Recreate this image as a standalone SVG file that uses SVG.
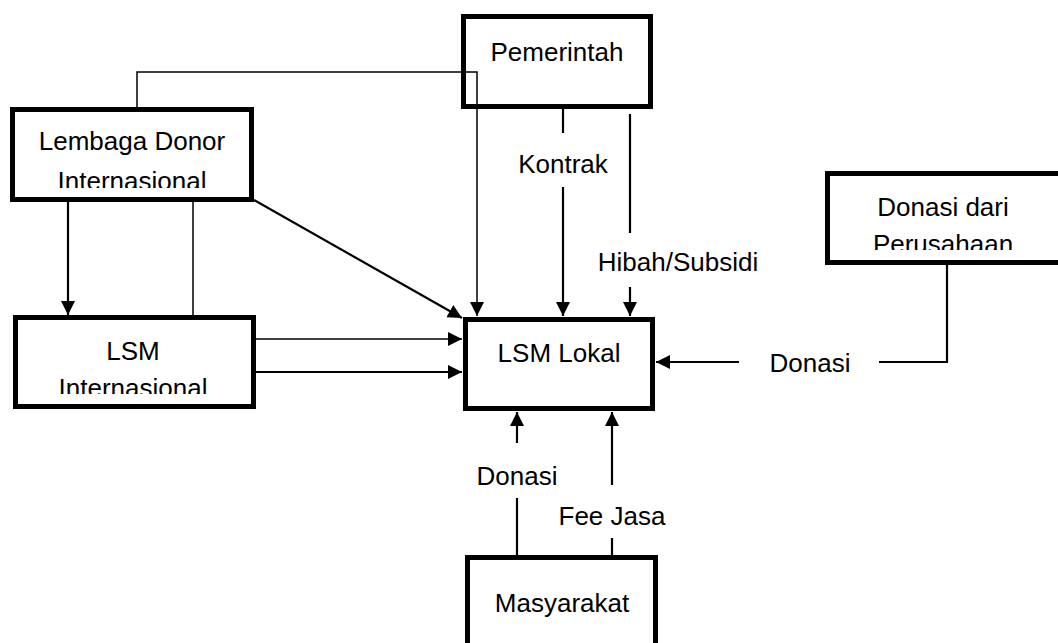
<svg xmlns="http://www.w3.org/2000/svg" width="1058" height="643" viewBox="0 0 1058 643">
<style>
.box{fill:#fff;stroke:#000;stroke-width:5}
.t{font-family:"Liberation Sans",Arial,sans-serif;font-size:26px;fill:#000;text-anchor:middle}
.c{fill:none;stroke:#000;stroke-width:2.2}
.thin{fill:none;stroke:#000;stroke-width:1.5}
</style>
<defs>
<marker id="ah" markerUnits="userSpaceOnUse" markerWidth="15" markerHeight="15" refX="14" refY="7" orient="auto" viewBox="0 0 15 14">
<path d="M0,0 L14,7 L0,14 z" fill="#000"/>
</marker>
<clipPath id="clipLD"><rect x="15" y="112" width="234" height="76"/></clipPath>
<clipPath id="clipLI"><rect x="18" y="320" width="233" height="74"/></clipPath>
<clipPath id="clipDP"><rect x="830" y="176" width="228" height="74"/></clipPath>
</defs>
<rect width="1058" height="643" fill="#fff"/>
<g id="connectors">
<path class="c" d="M68,202 V315" marker-end="url(#ah)"/>
<path class="thin" d="M193,202 V339 H462" marker-end="url(#ah)"/>
<path class="c" d="M256,372 H462" marker-end="url(#ah)"/>
<path class="c" d="M254,200 L462,318" marker-end="url(#ah)"/>
<path class="thin" d="M137,107 V72 H477 V316" marker-end="url(#ah)"/>
<path class="c" d="M563,109 V133"/>
<path class="c" d="M563,187 V316" marker-end="url(#ah)"/>
<path class="c" d="M630,114 V233"/>
<path class="c" d="M630,287 V316" marker-end="url(#ah)"/>
<path class="c" d="M947,265 V362 H879"/>
<path class="c" d="M739,362 H656" marker-end="url(#ah)"/>
<path class="c" d="M517,555 V498"/>
<path class="c" d="M517,443 V412" marker-end="url(#ah)"/>
<path class="c" d="M612,555 V538"/>
<path class="c" d="M612,485 V412" marker-end="url(#ah)"/>
<text class="t" x="563" y="173">Kontrak</text>
<text class="t" x="678" y="271">Hibah/Subsidi</text>
<text class="t" x="810" y="372">Donasi</text>
<text class="t" x="517" y="485">Donasi</text>
<text class="t" x="612" y="525">Fee Jasa</text>
</g>
<g id="pemerintah">
<rect class="box" x="463.5" y="16.5" width="187" height="90" style="fill:none"/>
<text class="t" x="557" y="61">Pemerintah</text>
</g>
<g id="lembaga-donor">
<rect class="box" x="12.5" y="109.5" width="239" height="90"/>
<g clip-path="url(#clipLD)">
<text class="t" x="132" y="150">Lembaga Donor</text>
<text class="t" x="132" y="190">Internasional</text>
</g>
</g>
<g id="lsm-internasional">
<rect class="box" x="15.5" y="317.5" width="238" height="89"/>
<g clip-path="url(#clipLI)">
<text class="t" x="133" y="360">LSM</text>
<text class="t" x="133" y="397">Internasional</text>
</g>
</g>
<g id="lsm-lokal">
<rect class="box" x="465.5" y="319.5" width="187" height="89"/>
<text class="t" x="559" y="362">LSM Lokal</text>
</g>
<g id="donasi-perusahaan">
<rect class="box" x="827.5" y="173.5" width="240" height="89"/>
<g clip-path="url(#clipDP)">
<text class="t" x="943" y="216">Donasi dari</text>
<text class="t" x="943" y="253">Perusahaan</text>
</g>
</g>
<g id="masyarakat">
<rect class="box" x="467.5" y="557.5" width="188" height="120"/>
<text class="t" x="562" y="612">Masyarakat</text>
</g>
</svg>
